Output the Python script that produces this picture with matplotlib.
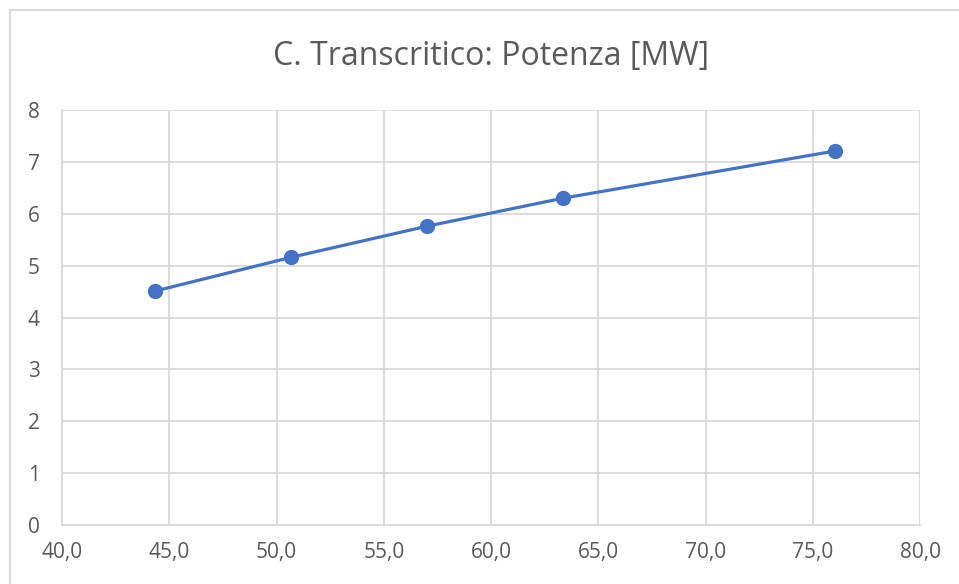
import matplotlib.pyplot as plt
from matplotlib.patches import Rectangle
from matplotlib.ticker import FuncFormatter, MultipleLocator

# data
temperature = [44.34, 50.68, 57.02, 63.36, 76.04]
potenza = [4.51, 5.16, 5.76, 6.30, 7.21]

title = "C. Transcritico: Potenza [MW]"
text_color = "#595959"
grid_color = "#D9D9D9"
line_color = "#4472C4"

plt.rcParams['font.family'] = ['Open Sans', 'DejaVu Sans']

fig = plt.figure(figsize=(9.59, 5.84), dpi=100)
# chart border (screenshot cut off at right/bottom)
fig.patches.append(Rectangle((10 / 959, -0.1), 1.1, 1 - 10 / 584 + 0.1,
                             transform=fig.transFigure, fill=False,
                             edgecolor=grid_color, linewidth=1.5))

ax = fig.add_axes([62 / 959, 1 - 525 / 584, (920 - 62) / 959, (525 - 110) / 584])
ax.plot(temperature, potenza, color=line_color, linewidth=2.3,
        marker='o', markersize=10, zorder=3)

ax.set_xlim(40, 80)
ax.set_ylim(0, 8)
ax.xaxis.set_major_locator(MultipleLocator(5))
ax.yaxis.set_major_locator(MultipleLocator(1))
ax.xaxis.set_major_formatter(FuncFormatter(lambda v, p: f"{v:.1f}".replace(".", ",")))
ax.yaxis.set_major_formatter(FuncFormatter(lambda v, p: f"{v:.0f}"))

ax.grid(True, color=grid_color, linewidth=1.3)
ax.set_axisbelow(True)
for side in ['top', 'right']:
    ax.spines[side].set_visible(False)
ax.spines['left'].set_color(grid_color)
ax.spines['bottom'].set_color(grid_color)
ax.spines['left'].set_linewidth(1.3)
ax.spines['bottom'].set_linewidth(1.3)
ax.tick_params(length=0, colors=text_color, labelsize=15)
ax.tick_params(axis='x', pad=12)
ax.tick_params(axis='y', pad=16)

fig.text(0.5 * (62 + 920) / 959 + 0.0, 1 - 57 / 584, title, ha='center', va='center',
         fontsize=23, color=text_color)

fig.savefig("out.png", dpi=100)
